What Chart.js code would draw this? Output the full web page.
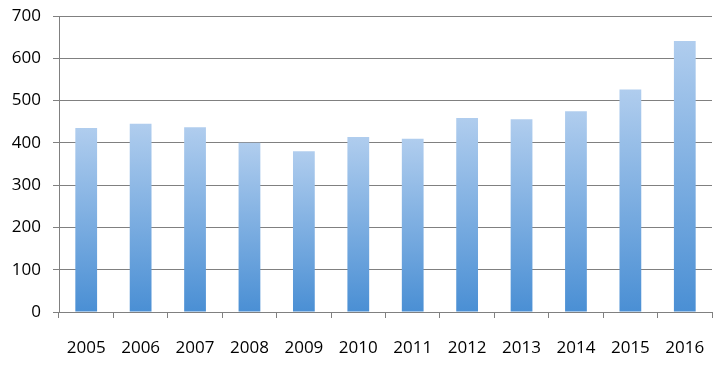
<!DOCTYPE html>
<html>
<head>
<meta charset="utf-8">
<script src="https://cdn.jsdelivr.net/npm/chart.js@4"></script>
<style>
  html, body { margin: 0; padding: 0; background: #fff; }
  #wrap { width: 727px; height: 366px; }
</style>
</head>
<body>
<div id="wrap"><canvas id="myChart"></canvas></div>
<script>
const years = ['2005', '2006', '2007', '2008', '2009', '2010', '2011', '2012', '2013', '2014', '2015', '2016'];
const values = [435, 445, 437, 400, 380, 414, 410, 459, 456, 475, 526, 641];
const yTicks = [0, 100, 200, 300, 400, 500, 600, 700];

const ctx = document.getElementById('myChart');

// each bar gets its own gradient, light at top, darker at the base
function barFill(c) {
    const chart = c.chart;
    const y = chart.scales.y;
    if (!y || c.dataIndex === undefined) return '#7aaee2';
    const top = y.getPixelForValue(values[c.dataIndex]);
    const base = y.getPixelForValue(0);
    if (!isFinite(top) || !isFinite(base) || top === base) return '#7aaee2';
    const g = chart.ctx.createLinearGradient(0, top, 0, base);
    g.addColorStop(0, '#b0cdee');
    g.addColorStop(1, '#4a8fd4');
    return g;
}

new Chart(ctx, {
    type: 'bar',
    data: {
        labels: years,
        datasets: [{
            data: values,
            backgroundColor: barFill,
            borderWidth: 0,
            barPercentage: 0.4,
            categoryPercentage: 1
        }]
    },
    options: {
        responsive: true,
        maintainAspectRatio: false,
        animation: false,
        layout: { padding: { top: 16, right: 15, left: 0, bottom: 0 } },
        plugins: { legend: { display: false }, tooltip: { enabled: false } },
        scales: {
            x: {
                grid: { offset: true, drawOnChartArea: false, drawTicks: true, tickLength: 6, color: '#808080', lineWidth: 1 },
                border: { color: '#808080', width: 1 },
                ticks: { color: '#000', font: { family: 'Open Sans', size: 17 }, padding: 20, maxRotation: 0 },
                afterFit: s => { s.height = 54; s.paddingLeft = 0; s.paddingRight = 0; }
            },
            y: {
                min: 0,
                max: 700,
                afterBuildTicks: s => { s.ticks = yTicks.map(v => ({ value: v })); },
                grid: { color: '#808080', lineWidth: 1, tickLength: 6 },
                border: { color: '#808080', width: 1 },
                ticks: { color: '#000', font: { family: 'Open Sans', size: 17 }, padding: 12 },
                afterFit: s => { s.width = 59; s.paddingTop = 0; s.paddingBottom = 0; }
            }
        }
    }
});
</script>
</body>
</html>
